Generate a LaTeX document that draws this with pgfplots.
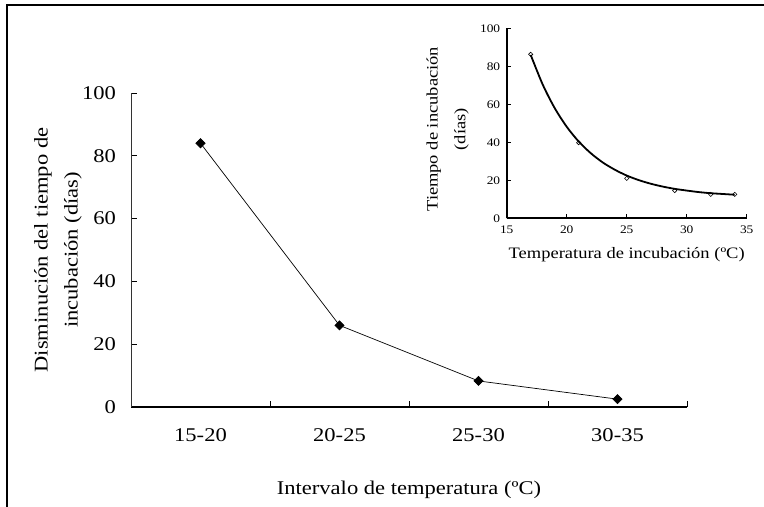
\documentclass[border=0pt]{standalone}
\usepackage{fontspec}
\setmainfont{Liberation Serif}[FakeStretch=1.16]
\usepackage{pgfplots}
\pgfplotsset{compat=1.18}
\pgfplotstableread{
x y
0 84
1 26
2 8.3
3 2.5
}\maindata
\pgfplotstableread{
x y
17 86.3
21 39.8
25 21.0
29 14.6
32 12.6
34 12.6
}\insetpts
\pgfplotstableread{
x y
17 86.0
18 70.4
19 58.0
20 48.2
21 40.4
22 34.3
23 29.4
24 25.6
25 22.5
26 20.1
27 18.2
28 16.7
29 15.5
30 14.6
31 13.8
32 13.2
33 12.8
34 12.4
}\insetcurve
\begin{document}
\begin{tikzpicture}
\useasboundingbox (0bp,0bp) rectangle (764bp,507bp);
\draw[line width=1.6bp] (7bp,-20bp) -- (7bp,502bp) -- (800bp,502bp);
\begin{axis}[
  at={(131bp,100bp)}, anchor=south west, scale only axis,
  width=556bp, height=314bp,
  xmin=-0.5, xmax=3.5, ymin=0, ymax=100,
  axis x line=bottom, axis y line=left,
  x axis line style={-, line width=1.1bp},
  y axis line style={-, line width=0.8bp, black!80},
  tick align=inside,
  xtick={0,1,2,3}, xticklabels={15-20,20-25,25-30,30-35},
  minor xtick={-0.5,0.5,1.5,2.5,3.5},
  major x tick style={draw=none},
  minor x tick style={black, line width=0.8bp},
  minor tick length=6bp,
  ytick={0,20,...,100},
  major tick length=6bp,
  y tick style={black, line width=0.8bp},
  /pgf/number format/assume math mode=true,
  tick label style={font=\fontsize{19.5}{22}\selectfont},
  yticklabel style={xshift=-11.5bp},
  xticklabel style={yshift=-18.5bp},
  xlabel={Intervalo de temperatura (ºC)},
  xlabel style={at={(axis description cs:0.5,0)}, anchor=center, yshift=-83bp, font=\fontsize{19.5}{22}\selectfont},
  ylabel={Disminución del tiempo de\\incubación (días)},
  ylabel style={at={(axis description cs:0,0.5)}, anchor=center, yshift=73bp, align=center, font=\fontsize{19.5}{30}\selectfont},
  clip=false,
]
\addplot[black, line width=0.7bp, mark=square*, mark size=3.2bp, mark options={rotate=45, fill=black}] table[x=x,y=y] {\maindata};
\end{axis}
\begin{axis}[
  at={(506.7bp,288.7bp)}, anchor=south west, scale only axis,
  width=240bp, height=190bp,
  xmin=15, xmax=35, ymin=0, ymax=100,
  axis x line=bottom, axis y line=left,
  axis line style={-, line width=1.6bp},
  tick align=inside,
  xtick={15,20,...,35}, ytick={0,20,...,100},
  major tick length=4bp,
  tick style={black, line width=1.2bp},
  /pgf/number format/assume math mode=true,
  tick label style={font=\fontsize{11.6}{13}\selectfont},
  yticklabel style={xshift=-3bp},
  xticklabel style={yshift=-4bp},
  xlabel={Temperatura de incubación (ºC)},
  xlabel style={at={(axis description cs:0.5,0)}, anchor=center, yshift=-36bp, font=\fontsize{16}{18}\selectfont},
  ylabel={Tiempo de incubación\\(días)},
  ylabel style={at={(axis description cs:0,0.5)}, anchor=center, yshift=59bp, xshift=-6bp, align=center, font=\fontsize{16}{28}\selectfont},
  clip=false,
]
\addplot[black, line width=1.8bp, smooth] table[x=x,y=y] {\insetcurve};
\addplot[only marks, black, mark=square, mark size=1.5bp, mark options={rotate=45, fill=white, line width=0.6bp}] table[x=x,y=y] {\insetpts};
\end{axis}
\end{tikzpicture}
\end{document}
